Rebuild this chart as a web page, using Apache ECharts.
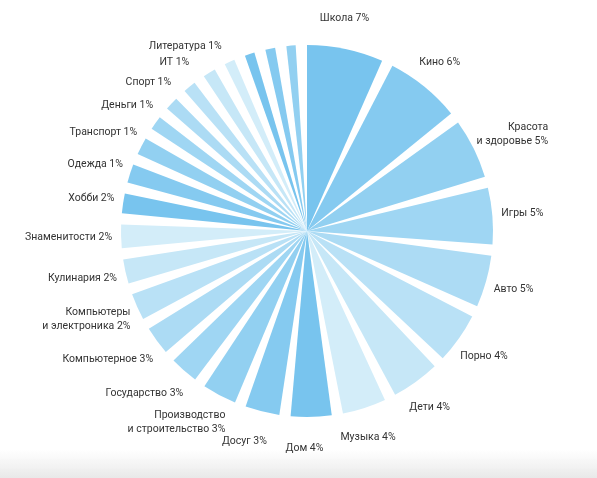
<!DOCTYPE html>
<html>
<head>
<meta charset="utf-8">
<title>Интересы</title>
<style>
  html, body { margin: 0; padding: 0; background: #fff; }
  #main { width: 597px; height: 478px; }
</style>
<script src="https://cdn.jsdelivr.net/npm/echarts@6.0.0/dist/echarts.min.js"></script>
</head>
<body>
<div id="main"></div>
<script>
  // категории (по часовой стрелке от 12 часов)
  var names = ['Школа', 'Кино', 'Красота\nи здоровье', 'Игры', 'Авто', 'Порно', 'Дети', 'Музыка', 'Дом',
    'Досуг', 'Производство\nи строительство', 'Государство', 'Компьютерное', 'Компьютеры\nи электроника',
    'Кулинария', 'Знаменитости', 'Хобби', 'Одежда', 'Транспорт', 'Деньги', 'Спорт', 'ИТ', 'Литература',
    '', '', '', ''];
  // проценты, как они подписаны
  var shares = [7, 6, 5, 5, 5, 4, 4, 4, 4, 3, 3, 3, 3, 2, 2, 2, 2, 1, 1, 1, 1, 1, 1, null, null, null, null];
  // размер сектора (% круга)
  var sizes = [7.5, 7.4, 6.1, 5.8, 5.4, 5.3, 5.1, 4.7, 4.45, 3.9, 3.9, 3.4, 3.4, 3.25, 3.05, 2.95, 2.65,
    2.55, 2.45, 2.15, 2.1, 2.05, 2.05, 1.85, 1.8, 1.8, 1.75];

  var palette = ['#78c4ee', '#85caf0', '#92d0f1', '#9fd6f3', '#acdbf4', '#b9e1f6', '#c6e7f7', '#d3edf9'];

  var cx = 307, cy = 231, R = 186, pad = 3.5;

  var total = sizes.reduce(function (a, b) { return a + b; }, 0);
  var mids = [];
  var acc = 0;
  sizes.forEach(function (v) {
    mids.push(((acc + v / 2) / total * 360 - pad / 2) * Math.PI / 180);
    acc += v;
  });

  var data = names.map(function (n, i) {
    return { name: n, value: sizes[i], share: shares[i] };
  });

  var myChart = echarts.init(document.getElementById('main'));

  myChart.setOption({
    animation: false,
    color: palette,
    graphic: [{
      type: 'rect',
      silent: true,
      shape: { x: 0, y: 450, width: 597, height: 28 },
      style: {
        fill: new echarts.graphic.LinearGradient(0, 0, 0, 1, [
          { offset: 0, color: 'rgba(235,235,235,0)' },
          { offset: 1, color: 'rgba(232,232,232,1)' }
        ])
      },
      z: -1
    }],
    series: [{
      type: 'pie',
      silent: true,
      center: [cx, cy],
      radius: R,
      startAngle: 90 + pad / 2,
      padAngle: pad,
      avoidLabelOverlap: false,
      data: data,
      itemStyle: { borderWidth: 0 },
      label: {
        show: true,
        position: 'outside',
        fontFamily: 'Roboto',
        fontSize: 10.5,
        lineHeight: 14,
        color: '#333',
        formatter: function (p) {
          return p.data.name ? p.data.name + ' ' + p.data.share + '%' : '';
        }
      },
      labelLine: { show: false },
      // подпись у середины сектора; справа сдвинута к центру, слева снизу прижата к сектору
      labelLayout: function (p) {
        var m = mids[p.dataIndex];
        var s = Math.sin(m), c = Math.cos(m);
        var w = p.labelRect.width;
        var k = s > 0 ? 1.4 : (c < 0 ? 0.4 : 1);
        var left = s > 0 ? cx + 195 * s - k * w * (1 - s) / 2
                         : cx + 195 * s + k * w * (1 + s) / 2 - w;
        return {
          x: left + w,
          y: cy - 217 * c,
          align: 'right',
          verticalAlign: 'middle'
        };
      }
    }]
  });
</script>
</body>
</html>
